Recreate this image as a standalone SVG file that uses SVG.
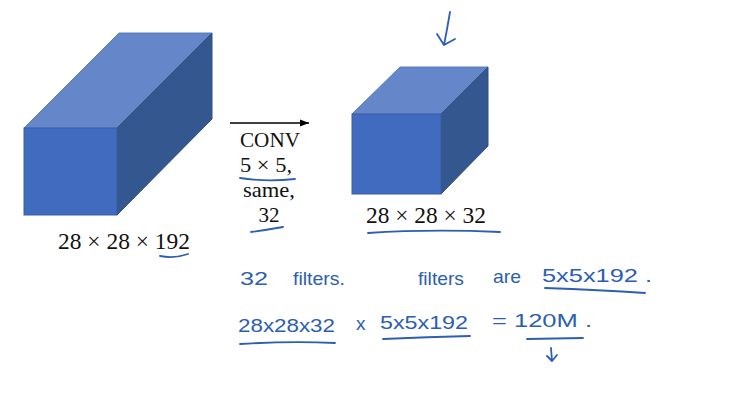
<svg xmlns="http://www.w3.org/2000/svg" width="738" height="400" viewBox="0 0 738 400">
<style>
.front{fill:#416bbf;stroke:#3a5fa8;stroke-width:1}
.top{fill:#6587c9;stroke:#5a7cbd;stroke-width:1}
.side{fill:#34578f;stroke:#2f5085;stroke-width:1}
.tex{font-family:"Liberation Serif","Times New Roman",serif;fill:#111;text-anchor:middle}
.hw{font-family:"Liberation Sans",Arial,sans-serif;fill:#2c5eb2;font-size:19px}
.ink{fill:none;stroke:#2c5eb2;stroke-width:1.8;stroke-linecap:round;stroke-linejoin:round}
.conn{fill:none;stroke:#000;stroke-width:1.3}
</style>
<defs>
<marker id="ah" viewBox="0 0 10 10" refX="10" refY="5" markerWidth="9" markerHeight="9" markerUnits="userSpaceOnUse" orient="auto">
<path d="M0,1 L10,5 L0,9 Z" fill="#000"/>
</marker>
</defs>
<rect width="738" height="400" fill="#fff"/>

<g id="connectors">
<line class="conn" x1="230" y1="123" x2="309" y2="123" marker-end="url(#ah)"/>
</g>

<g id="input-volume">
<polygon class="top" points="24,128 119,33 212,33 117,128"/>
<polygon class="side" points="117,128 212,33 212,119 117,215"/>
<rect class="front" x="24" y="128" width="93" height="87"/>
<text class="tex" x="124" y="249" font-size="23" textLength="132" lengthAdjust="spacingAndGlyphs">28 × 28 × 192</text>
<path class="ink" d="M160,256 Q174,259 188,254"/>
</g>

<g id="conv-op">
<text class="tex" x="270" y="147" font-size="21" textLength="60" lengthAdjust="spacingAndGlyphs">CONV</text>
<text class="tex" x="266" y="172" font-size="21" textLength="52" lengthAdjust="spacingAndGlyphs">5 × 5,</text>
<path class="ink" d="M240,178 Q266,182 295,179"/>
<text class="tex" x="269" y="197" font-size="21" textLength="52" lengthAdjust="spacingAndGlyphs">same,</text>
<text class="tex" x="269" y="222" font-size="21">32</text>
<path class="ink" d="M251,232 Q266,230 283,227"/>
</g>

<g id="output-volume">
<polygon class="top" points="352,114 400,67 488,67 441,114"/>
<polygon class="side" points="441,114 488,67 488,146 441,194"/>
<rect class="front" x="352" y="114" width="89" height="80"/>
<text class="tex" x="426" y="223" font-size="23" textLength="120" lengthAdjust="spacingAndGlyphs">28 × 28 × 32</text>
<path class="ink" d="M368,233 Q430,229 500,232"/>
<path class="ink" d="M450,12 Q447,30 444,45 M437,34 L444,45 L455,39"/>
</g>

<g id="notes">
<text class="hw" x="240" y="285" textLength="28" lengthAdjust="spacingAndGlyphs">32</text>
<text class="hw" x="293" y="285" textLength="52" lengthAdjust="spacingAndGlyphs">filters.</text>
<text class="hw" x="418" y="285" textLength="46" lengthAdjust="spacingAndGlyphs">filters</text>
<text class="hw" x="493" y="283" font-size="15" textLength="28" lengthAdjust="spacingAndGlyphs">are</text>
<text class="hw" x="542" y="282" textLength="110" lengthAdjust="spacingAndGlyphs">5x5x192 .</text>
<path class="ink" d="M545,288 Q600,290 645,293"/>
<text class="hw" x="238" y="332" textLength="97" lengthAdjust="spacingAndGlyphs">28x28x32</text>
<path class="ink" d="M240,344 Q290,341 335,343"/>
<text class="hw" x="356" y="330" font-size="14">x</text>
<text class="hw" x="380" y="329" textLength="88" lengthAdjust="spacingAndGlyphs">5x5x192</text>
<path class="ink" d="M383,339 Q428,337 470,336"/>
<text class="hw" x="492" y="327" textLength="100" lengthAdjust="spacingAndGlyphs">= 120M .</text>
<path class="ink" d="M527,339 L583,338"/>
<path class="ink" d="M551,348 L552,361 M547,356 L552,361 L557,355"/>
</g>
</svg>
